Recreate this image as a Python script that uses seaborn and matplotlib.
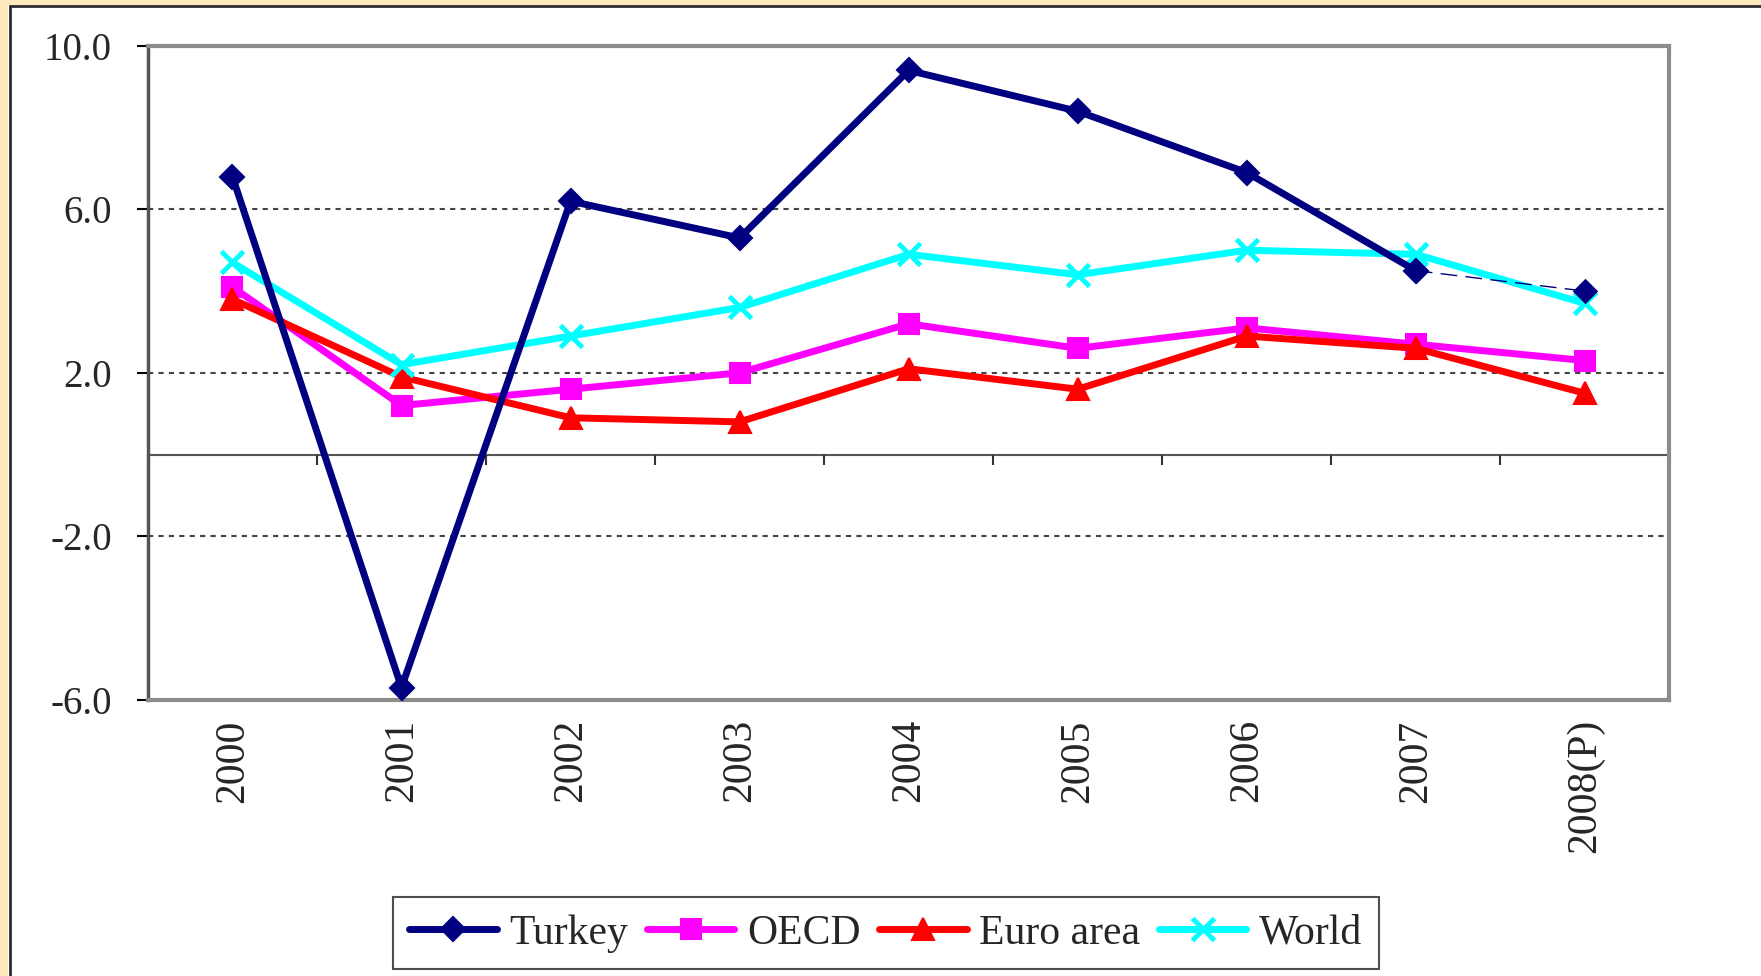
import numpy as np
import pandas as pd
import seaborn as sns
import matplotlib.pyplot as plt
import matplotlib.patches as mpatches
from matplotlib.lines import Line2D

years = ["2000", "2001", "2002", "2003", "2004", "2005", "2006", "2007", "2008(P)"]
turkey = [6.8, -5.7, 6.2, 5.3, 9.4, 8.4, 6.9, 4.5, 4.0]
oecd = [4.1, 1.2, 1.6, 2.0, 3.2, 2.6, 3.1, 2.7, 2.3]
euro_area = [3.8, 1.9, 0.9, 0.8, 2.1, 1.6, 2.9, 2.6, 1.5]
world = [4.7, 2.2, 2.9, 3.6, 4.9, 4.4, 5.0, 4.9, 3.7]

y_ticks = [-6.0, -2.0, 2.0, 6.0, 10.0]

sns.set_theme(style="white")
plt.rcParams['font.family'] = ['Liberation Serif', 'DejaVu Serif']

df = pd.DataFrame({"year": years, "Turkey": turkey, "OECD": oecd,
                   "Euro area": euro_area, "World": world})
df["pos"] = np.arange(len(years))

fig = plt.figure(figsize=(17.61, 9.76), dpi=100, facecolor="white")
ax = fig.add_axes([0.084, 0.283, 0.864, 0.670])

# beige page frame on the left and top
fig.patches.append(mpatches.Rectangle((0, 0), 0.0045, 1, transform=fig.transFigure,
                                      facecolor="#FDE9BC", edgecolor="none", zorder=-5))
fig.patches.append(mpatches.Rectangle((0, 0.9945), 1, 0.0055, transform=fig.transFigure,
                                      facecolor="#FDE9BC", edgecolor="none", zorder=-5))
fig.lines.append(Line2D([0.0055, 0.0055], [0, 0.994], transform=fig.transFigure,
                        color="#2b2b2b", lw=2))
fig.lines.append(Line2D([0.0055, 1], [0.994, 0.994], transform=fig.transFigure,
                        color="#2b2b2b", lw=2))

styles = [
    ("Turkey", "#000080", "D", 12, 1.5),
    ("OECD", "#FF00FF", "s", 14, 1.5),
    ("Euro area", "#FF0000", "^", 16, 1.5),
    ("World", "#00FFFF", "x", 16, 3.5),
]

# Turkey: solid through 2007, thin dashed to the 2008 projection
sns.lineplot(data=df.iloc[:8], x="pos", y="Turkey", ax=ax, color="#000080", lw=5,
             marker="D", markersize=12, markeredgewidth=1.5, markeredgecolor="#000080", zorder=5)
sns.lineplot(data=df.iloc[7:], x="pos", y="Turkey", ax=ax, color="#000080", lw=1,
             linestyle=(0, (12, 6)), marker="D", markersize=12, markeredgecolor="#000080", zorder=5)

for name, color, mk, ms, mew in styles[1:]:
    sns.lineplot(data=df, x="pos", y=name, ax=ax, color=color, lw=5, marker=mk,
                 markersize=ms, markeredgewidth=mew, markeredgecolor=color, zorder=4)

ax.set_xlim(-0.5, len(years) - 0.5)
ax.set_ylim(-6, 10)
ax.set_yticks(y_ticks)
ax.set_yticklabels([f"{v:.1f}" for v in y_ticks])
ax.set_xticks(df["pos"])
ax.set_xticklabels(years, rotation=90, va="top")
ax.tick_params(axis="x", length=0, pad=14, labelsize=30)
ax.tick_params(axis="y", length=8, width=1.5, color="black", direction="out", pad=18, labelsize=28, left=True)
ax.set_xlabel("")
ax.set_ylabel("")

for v in y_ticks:
    ax.axhline(v, color="#444444", lw=1.5, linestyle=(0, (2.5, 2.5)), zorder=1)

# zero line with category boundary ticks
ax.axhline(0, color="#555555", lw=1.5, zorder=2)
bounds = np.arange(len(years) + 1) - 0.5
ax.vlines(bounds, -0.25, 0, color="#333333", lw=1.5, zorder=2)

for s in ax.spines.values():
    s.set_color("#8c8c8c")
    s.set_linewidth(3)
ax.spines["left"].set_color("#555555")
ax.spines["left"].set_linewidth(2.5)

handles = [Line2D([], [], color=c, lw=5, marker=mk, markersize=ms, markeredgewidth=mew,
                  markeredgecolor=c, label=n) for n, c, mk, ms, mew in styles]
leg = fig.legend(handles=handles, loc="lower center", bbox_to_anchor=(0.503, 0.007), ncol=4,
                 frameon=True, fancybox=False, fontsize=30, handlelength=2.1, handletextpad=0.3,
                 columnspacing=0.45, borderpad=0.4, borderaxespad=0)
leg.get_frame().set_edgecolor("#222222")
leg.get_frame().set_linewidth(1.5)

fig.savefig("out.png", dpi=100, facecolor="white")
